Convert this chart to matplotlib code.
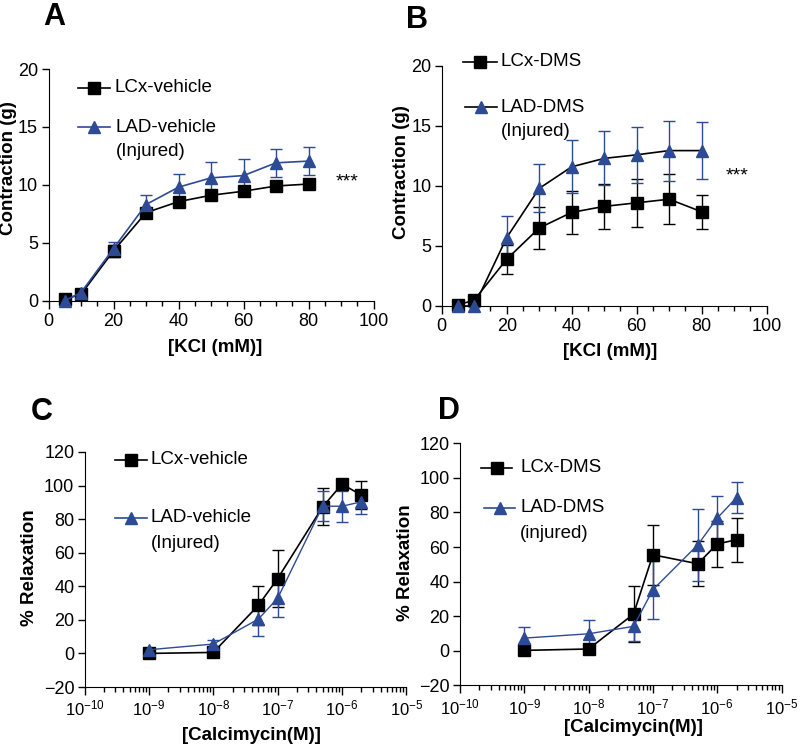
import numpy as np
import matplotlib
matplotlib.use("Agg")
from matplotlib import pyplot as plt
from matplotlib.lines import Line2D
from matplotlib.ticker import MultipleLocator

plt.rcParams['font.family'] = ['Liberation Sans', 'DejaVu Sans']
plt.rcParams['mathtext.fontset'] = 'custom'
plt.rcParams['mathtext.rm'] = 'Liberation Sans'
plt.rcParams['mathtext.it'] = 'Liberation Sans:italic'
plt.rcParams['mathtext.bf'] = 'Liberation Sans:bold'

# KCl panels (A, B)
kcl = [5, 10, 20, 30, 40, 50, 60, 70, 80]
a_lcx = [0.15, 0.55, 4.3, 7.6, 8.55, 9.1, 9.45, 9.9, 10.07]
a_lcx_err = [0.2, 0.2, 0.5, 0.35, 0.3, 0.35, 0.4, 0.3, 0.35]
a_lad = [0.0, 0.7, 4.5, 8.3, 9.8, 10.6, 10.8, 11.9, 12.05]
a_lad_err = [0.1, 0.3, 0.6, 0.85, 1.15, 1.35, 1.4, 1.2, 1.2]

b_lcx = [0.08, 0.5, 3.9, 6.5, 7.8, 8.3, 8.6, 8.9, 7.85]
b_lcx_err = [0.1, 0.3, 1.2, 1.75, 1.8, 1.9, 2.0, 2.1, 1.4]
b_lad = [0.0, 0.0, 5.7, 9.8, 11.6, 12.3, 12.6, 12.95, 12.95]
b_lad_err = [0.1, 0.1, 1.8, 2.0, 2.2, 2.25, 2.35, 2.5, 2.4]

# Calcimycin panels (C, D)
conc = [1e-9, 1e-8, 5e-8, 1e-7, 5e-7, 1e-6, 2e-6]
c_lcx = [0.0, 0.6, 28.6, 44.6, 87.3, 100.8, 94.4]
c_lcx_err = [1.0, 1.5, 11.7, 17.0, 11.0, 3.0, 8.3]
c_lad = [2.2, 5.6, 20.4, 32.9, 87.7, 87.7, 90.3]
c_lad_err = [1.0, 2.6, 10.0, 11.0, 9.0, 9.2, 7.0]

d_lcx = [0.2, 1.0, 21.2, 55.5, 50.3, 61.8, 64.2]
d_lcx_err = [1.0, 1.0, 16.2, 17.5, 12.9, 13.1, 12.8]
d_lad = [7.3, 9.8, 14.1, 35.3, 61.3, 76.7, 88.6]
d_lad_err = [6.2, 7.7, 8.7, 16.8, 20.9, 12.7, 8.8]

BLUE = '#2d4a94'
W, H = 800, 747

fig = plt.figure(figsize=(8, 7.47), dpi=100)


def px(x, y):
    return x / W, 1 - y / H


def make_ax(x0, x1, y_top, y_bot):
    ax = fig.add_axes([x0 / W, 1 - y_bot / H, (x1 - x0) / W, (y_bot - y_top) / H])
    for s in ['top', 'right']:
        ax.spines[s].set_visible(False)
    ax.tick_params(which='major', direction='out', length=5, width=1, labelsize=13, pad=2.5)
    ax.tick_params(which='minor', direction='out', length=3.5, width=1)
    return ax


def series(ax, x, y, err, marker, line_c, mark_c, err_c, lw=1.2):
    ax.errorbar(x, y, yerr=err, fmt=marker + '-', color=line_c, mfc=mark_c, mec=mark_c,
                ecolor=err_c, ms=8 if marker == 's' else 8.5, lw=lw, elinewidth=1,
                capsize=4, capthick=1, clip_on=False, zorder=3)


def legend_item(x1, x2, y, marker, line_c, mark_c, text, tx, size=13.5):
    fig.add_artist(Line2D([x1 / W, x2 / W], [1 - y / H] * 2, color=line_c, lw=1.2))
    fig.add_artist(Line2D([(x1 + x2) / 2 / W], [1 - y / H], marker=marker, ms=8,
                          color=mark_c, lw=0))
    fig.text(tx / W, 1 - y / H, text, fontsize=size, va='center', ha='left')


# ---- A ----
axA = make_ax(48.5, 373.5, 69, 300.7)
series(axA, kcl, a_lcx, a_lcx_err, 's', 'black', 'black', 'black')
series(axA, kcl, a_lad, a_lad_err, '^', BLUE, BLUE, BLUE)
axA.set_xlim(0, 100)
axA.set_ylim(0, 20)
axA.xaxis.set_major_locator(MultipleLocator(20))
axA.xaxis.set_minor_locator(MultipleLocator(5))
axA.yaxis.set_major_locator(MultipleLocator(5))
axA.tick_params(axis='x', which='major', length=6)

# ---- B ----
axB = make_ax(441.7, 766.7, 66, 306)
series(axB, kcl, b_lcx, b_lcx_err, 's', 'black', 'black', 'black')
series(axB, kcl, b_lad, b_lad_err, '^', 'black', BLUE, BLUE)
axB.set_xlim(0, 100)
axB.set_ylim(0, 20)
axB.xaxis.set_major_locator(MultipleLocator(20))
axB.xaxis.set_minor_locator(MultipleLocator(5))
axB.yaxis.set_major_locator(MultipleLocator(5))
axB.tick_params(axis='x', which='major', length=6)

# ---- C ----
axC = make_ax(84.7, 406.3, 452, 687)
series(axC, conc, c_lcx, c_lcx_err, 's', 'black', 'black', 'black')
series(axC, conc, c_lad, c_lad_err, '^', BLUE, BLUE, BLUE, lw=1)
axC.set_xscale('log')
axC.set_xlim(1e-10, 1e-5)
axC.set_ylim(-20, 120)
axC.yaxis.set_major_locator(MultipleLocator(20))
axC.tick_params(axis='x', which='major', length=6, labelsize=12)

# ---- D ----
axD = make_ax(460, 781.5, 443.3, 685.3)
series(axD, conc, d_lcx, d_lcx_err, 's', 'black', 'black', 'black')
series(axD, conc, d_lad, d_lad_err, '^', BLUE, BLUE, BLUE, lw=1)
axD.set_xscale('log')
axD.set_xlim(1e-10, 1e-5)
axD.set_ylim(-20, 120)
axD.yaxis.set_major_locator(MultipleLocator(20))
axD.tick_params(axis='x', which='major', length=6, labelsize=12)

# ---- panel letters ----
for letter, (x, y) in zip('ABCD', [(54, 17), (417, 20), (42, 412), (449, 411)]):
    fig.text(*px(x, y), letter, fontsize=22, fontweight='bold', ha='center', va='center')

# ---- axis labels ----
fig.text(*px(9, 168), 'Contraction (g)', fontsize=13.5, fontweight='bold',
         rotation=90, ha='center', va='center')
fig.text(*px(402, 172), 'Contraction (g)', fontsize=13.5, fontweight='bold',
         rotation=90, ha='center', va='center')
fig.text(*px(30, 568), '% Relaxation', fontsize=13.5, fontweight='bold',
         rotation=90, ha='center', va='center')
fig.text(*px(406, 563), '% Relaxation', fontsize=13.5, fontweight='bold',
         rotation=90, ha='center', va='center')
fig.text(*px(215, 347), '[KCl (mM)]', fontsize=13.5, fontweight='bold', ha='center', va='center')
fig.text(*px(610, 352), '[KCl (mM)]', fontsize=13.5, fontweight='bold', ha='center', va='center')
fig.text(*px(251, 735), '[Calcimycin(M)]', fontsize=13.5, fontweight='bold', ha='center', va='center')
fig.text(*px(633, 727), '[Calcimycin(M)]', fontsize=13.5, fontweight='bold', ha='center', va='center')

# ---- significance marks ----
fig.text(*px(347, 182), '***', fontsize=14, ha='center', va='center')
fig.text(*px(737, 176), '***', fontsize=14, ha='center', va='center')

# ---- legends ----
legend_item(78, 110, 88, 's', 'black', 'black', 'LCx-vehicle', 115)
legend_item(78, 110, 127, '^', BLUE, BLUE, 'LAD-vehicle', 116)
fig.text(*px(116, 151), '(Injured)', fontsize=13.5, ha='left', va='center')

legend_item(463, 497, 62, 's', 'black', 'black', 'LCx-DMS', 500)
legend_item(465, 497, 107, '^', 'black', BLUE, 'LAD-DMS', 501)
fig.text(*px(501, 131), '(Injured)', fontsize=13.5, ha='left', va='center')

legend_item(115, 147, 460, 's', 'black', 'black', 'LCx-vehicle', 151)
legend_item(115, 147, 518, '^', BLUE, BLUE, 'LAD-vehicle', 151)
fig.text(*px(151, 543), '(Injured)', fontsize=13.5, ha='left', va='center')

legend_item(481, 512, 468, 's', 'black', 'black', 'LCx-DMS', 521)
legend_item(484, 515, 508, '^', BLUE, BLUE, 'LAD-DMS', 520)
fig.text(*px(520, 533), '(injured)', fontsize=13.5, ha='left', va='center')

fig.savefig('out.png', dpi=100)
